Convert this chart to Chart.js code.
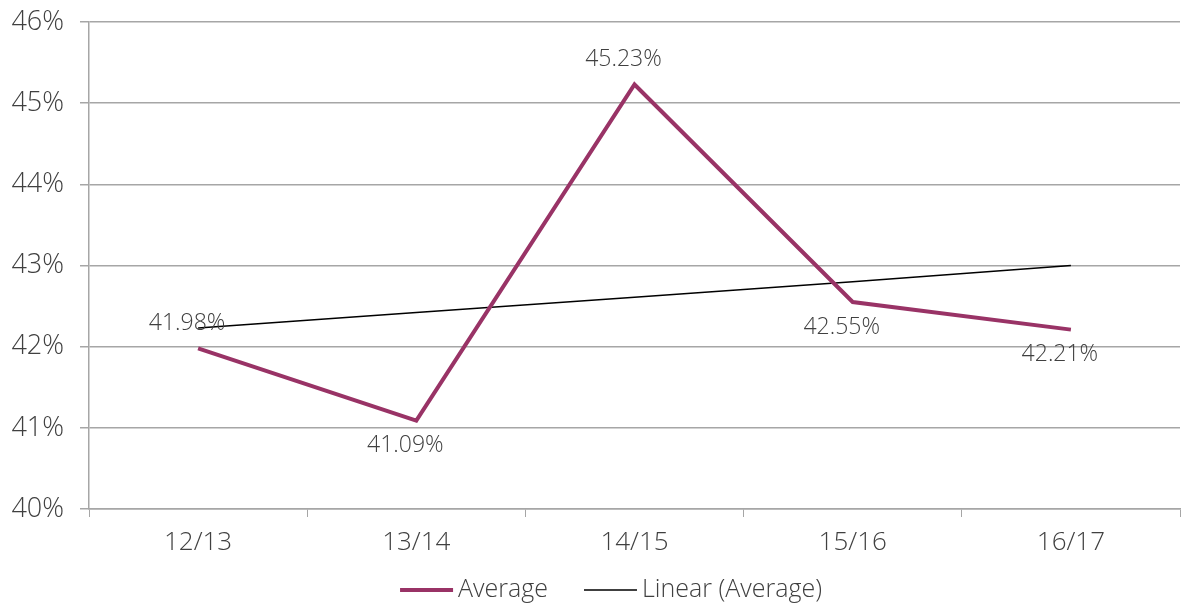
<!DOCTYPE html>
<html lang="en">
<head>
  <meta charset="UTF-8" />
  <title>Average</title>
  <script src="https://cdn.jsdelivr.net/npm/chart.js"></script>
  <style>
    html, body { margin: 0; padding: 0; background: #ffffff; }
    canvas { display: block; }
  </style>
</head>
<body>
  <canvas id="avgChart" width="1190" height="606"></canvas>

  <script>
    const seasons = ['12/13', '13/14', '14/15', '15/16', '16/17'];
    const averageValues = [41.98, 41.09, 45.23, 42.55, 42.21];
    const linearValues = [42.23, 42.42, 42.61, 42.80, 43.00];
    const labelSide = ['above', 'below', 'above', 'below', 'below'];

    const FONT = "'Open Sans', 'DejaVu Sans', sans-serif";
    const TEXT = '#404040';
    const GRID = '#a6a6a6';

    // draws the value labels next to the Average points
    const valueLabels = {
      id: 'valueLabels',
      afterDatasetsDraw(chart) {
        const ctx = chart.ctx;
        const meta = chart.getDatasetMeta(0);
        ctx.save();
        ctx.font = '300 23px ' + FONT;
        ctx.fillStyle = TEXT;
        ctx.textAlign = 'center';
        ctx.textBaseline = 'middle';
        meta.data.forEach((pt, i) => {
          const dy = labelSide[i] === 'above' ? -25 : 25;
          ctx.fillText(averageValues[i].toFixed(2) + '%', pt.x - 11, pt.y + dy);
        });
        ctx.restore();
      }
    };

    // legend like the spreadsheet one: short line, small gap, text
    const lineLegend = {
      id: 'lineLegend',
      afterDraw(chart) {
        const ctx = chart.ctx;
        const sets = chart.data.datasets;
        const lineW = 53, gap = 5, itemGap = 36;
        ctx.save();
        ctx.font = '300 25px ' + FONT;
        ctx.textBaseline = 'middle';
        ctx.textAlign = 'left';
        let total = 0;
        sets.forEach((ds, i) => {
          total += lineW + gap + ctx.measureText(ds.label).width;
          if (i < sets.length - 1) total += itemGap;
        });
        let x = chart.width / 2 + 16 - total / 2;
        const y = chart.height - 16;
        sets.forEach(ds => {
          ctx.strokeStyle = ds.borderColor;
          ctx.lineWidth = ds.borderWidth;
          ctx.beginPath();
          ctx.moveTo(x, y);
          ctx.lineTo(x + lineW, y);
          ctx.stroke();
          x += lineW + gap;
          ctx.fillStyle = TEXT;
          ctx.fillText(ds.label, x, y);
          x += ctx.measureText(ds.label).width + itemGap;
        });
        ctx.restore();
      }
    };

    new Chart(document.getElementById('avgChart'), {
      type: 'line',
      data: {
        labels: seasons,
        datasets: [
          {
            label: 'Average',
            data: averageValues,
            borderColor: '#993366',
            backgroundColor: '#993366',
            borderWidth: 4,
            pointRadius: 0,
            tension: 0,
            fill: false
          },
          {
            label: 'Linear (Average)',
            data: linearValues,
            borderColor: '#000000',
            backgroundColor: '#000000',
            borderWidth: 1.5,
            pointRadius: 0,
            tension: 0,
            fill: false
          }
        ]
      },
      options: {
        responsive: false,
        animation: false,
        devicePixelRatio: 1,
        layout: { padding: { left: 0, right: 10, top: 22, bottom: 41 } },
        plugins: {
          tooltip: { enabled: false },
          legend: { display: false }
        },
        scales: {
          x: {
            offset: true,
            grid: {
              offset: true,
              drawOnChartArea: false,
              drawTicks: true,
              tickLength: 8,
              color: GRID
            },
            border: { color: GRID, width: 1.5 },
            ticks: {
              color: TEXT,
              font: { family: FONT, size: 26, weight: '300' },
              padding: 10
            },
            afterFit(scale) { scale.height = 56; }
          },
          y: {
            min: 40,
            max: 46,
            grid: { color: GRID, lineWidth: 1.5, tickLength: 9 },
            border: { color: GRID, width: 1.5 },
            ticks: {
              stepSize: 1,
              color: TEXT,
              font: { family: FONT, size: 27, weight: '300' },
              padding: 16,
              callback: v => v + '%'
            },
            afterFit(scale) {
              scale.width = 89;
              scale.paddingTop = 0;
              scale.paddingBottom = 0;
            }
          }
        }
      },
      plugins: [valueLabels, lineLegend]
    });
  </script>
</body>
</html>
